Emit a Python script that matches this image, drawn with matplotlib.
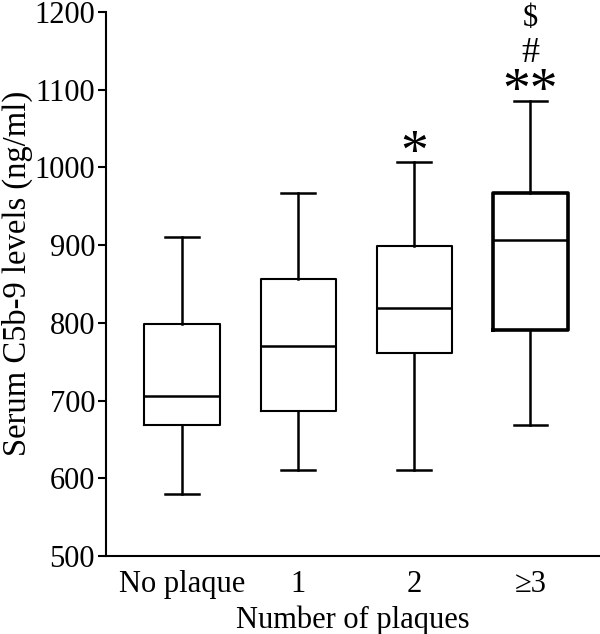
import matplotlib
matplotlib.use("Agg")
import matplotlib.pyplot as plt

categories = ["No plaque", "1", "2", "\u22653"]
whisker_low = [580, 611, 611, 668]
q1 = [668, 687, 761, 791]
median = [706, 770, 819, 907]
q3 = [798, 856, 899, 967]
whisker_high = [910, 967, 1007, 1086]
yticks = [500, 600, 700, 800, 900, 1000, 1100, 1200]

plt.rcParams['font.family'] = ['Liberation Serif', 'DejaVu Serif']

fig = plt.figure(figsize=(6.0, 6.34), dpi=100)
ax = fig.add_axes([0.177, 0.123, 0.821, 0.858])

positions = list(range(1, len(categories) + 1))
for i, pos in enumerate(positions):
    st = dict(med=median[i], q1=q1[i], q3=q3[i], whislo=whisker_low[i],
              whishi=whisker_high[i], fliers=[], label=categories[i])
    lw = 2.6 if i == 3 else 1.5
    ax.bxp([st], positions=[pos], widths=0.65, capwidths=0.29, showfliers=False,
           boxprops=dict(color='black', linewidth=lw),
           whiskerprops=dict(color='black', linewidth=1.8),
           capprops=dict(color='black', linewidth=1.8),
           medianprops=dict(color='black', linewidth=1.8))

ax.set_xlim(0.345, 4.59)
ax.set_ylim(500, 1200)
ax.set_yticks(yticks)
ax.set_xticks(positions)
ax.set_xticklabels(categories)
ax.spines['top'].set_visible(False)
ax.spines['right'].set_visible(False)
ax.spines['left'].set_linewidth(1.5)
ax.spines['bottom'].set_linewidth(1.5)
ax.tick_params(axis='y', direction='out', length=6, width=1.5, labelsize=22, pad=2)
ax.tick_params(axis='x', length=0, labelsize=22, pad=10)
ax.set_ylabel("Serum C5b-9 levels (ng/ml)", fontsize=23.5)
ax.yaxis.set_label_coords(-0.148, 0.52)
ax.set_xlabel("Number of plaques", fontsize=22, labelpad=5)

# significance marks
ax.text(3, 998, "*", ha='center', va='baseline', fontsize=40)
ax.text(4, 1078, "**", ha='center', va='baseline', fontsize=40)
ax.text(4, 1136, "#", ha='center', va='baseline', fontsize=26)
ax.text(4, 1182, r"\$", ha='center', va='baseline', fontsize=22)

fig.savefig("out.png", dpi=100)
